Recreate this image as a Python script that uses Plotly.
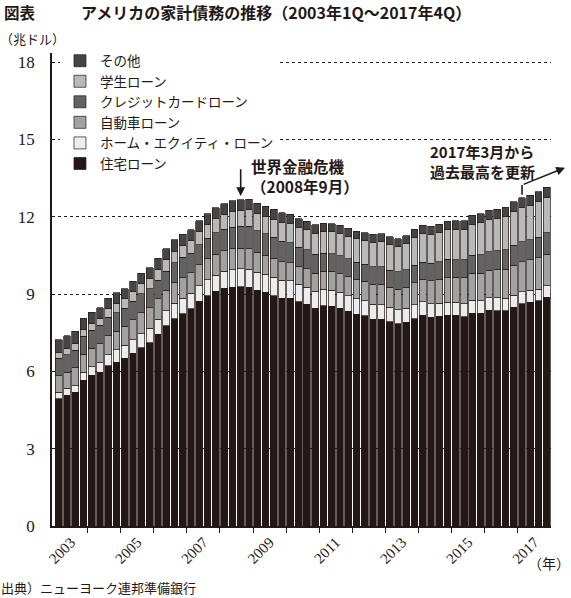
import plotly.graph_objects as go

years = list(range(2003, 2018))
quarters = [f"{y}Q{q}" for y in years for q in range(1, 5)]

mortgage = [4.94, 5.08, 5.18, 5.66, 5.84, 5.97, 6.21, 6.36, 6.51, 6.70, 6.91, 7.10,
            7.44, 7.76, 8.04, 8.23, 8.42, 8.71, 8.93, 9.10, 9.23, 9.27, 9.29, 9.26,
            9.14, 9.06, 8.94, 8.84, 8.83, 8.70, 8.61, 8.45, 8.54, 8.52, 8.44, 8.33,
            8.22, 8.15, 8.03, 8.03, 7.93, 7.84, 7.90, 8.05, 8.17, 8.10, 8.13, 8.17,
            8.17, 8.12, 8.26, 8.25, 8.37, 8.36, 8.35, 8.48, 8.63, 8.69, 8.74, 8.88]
home_equity = [0.24, 0.26, 0.27, 0.30, 0.33, 0.37, 0.43, 0.47, 0.50, 0.53, 0.54, 0.57,
               0.58, 0.59, 0.60, 0.60, 0.61, 0.61, 0.62, 0.63, 0.66, 0.68, 0.69, 0.71,
               0.71, 0.71, 0.71, 0.69, 0.68, 0.67, 0.66, 0.65, 0.64, 0.63, 0.62, 0.61,
               0.60, 0.59, 0.58, 0.56, 0.55, 0.54, 0.54, 0.53, 0.53, 0.52, 0.52, 0.51,
               0.51, 0.50, 0.50, 0.49, 0.49, 0.49, 0.48, 0.47, 0.46, 0.45, 0.45, 0.44]
auto = [0.64, 0.62, 0.68, 0.70, 0.72, 0.74, 0.75, 0.73, 0.73, 0.77, 0.83, 0.79,
        0.79, 0.80, 0.82, 0.82, 0.79, 0.81, 0.82, 0.81, 0.79, 0.80, 0.79, 0.78,
        0.77, 0.74, 0.74, 0.72, 0.71, 0.70, 0.71, 0.71, 0.71, 0.73, 0.73, 0.73,
        0.74, 0.75, 0.77, 0.78, 0.79, 0.81, 0.83, 0.86, 0.88, 0.90, 0.93, 0.96,
        0.97, 1.01, 1.04, 1.06, 1.07, 1.10, 1.14, 1.16, 1.17, 1.19, 1.21, 1.22]
credit_card = [0.69, 0.69, 0.69, 0.70, 0.70, 0.70, 0.71, 0.72, 0.71, 0.72, 0.73, 0.74,
               0.72, 0.74, 0.75, 0.77, 0.76, 0.78, 0.80, 0.83, 0.83, 0.84, 0.85, 0.87,
               0.84, 0.82, 0.81, 0.80, 0.76, 0.74, 0.73, 0.73, 0.70, 0.69, 0.69, 0.70,
               0.68, 0.67, 0.67, 0.68, 0.66, 0.67, 0.67, 0.68, 0.66, 0.67, 0.67, 0.70,
               0.68, 0.70, 0.71, 0.73, 0.71, 0.73, 0.75, 0.78, 0.76, 0.78, 0.81, 0.83]
student = [0.24, 0.24, 0.25, 0.25, 0.26, 0.26, 0.33, 0.35, 0.36, 0.37, 0.38, 0.39,
           0.43, 0.44, 0.45, 0.48, 0.51, 0.51, 0.53, 0.55, 0.58, 0.61, 0.62, 0.64,
           0.66, 0.68, 0.69, 0.72, 0.76, 0.76, 0.78, 0.81, 0.84, 0.85, 0.87, 0.87,
           0.90, 0.91, 0.96, 0.97, 0.99, 0.99, 1.03, 1.08, 1.11, 1.12, 1.13, 1.16,
           1.19, 1.19, 1.20, 1.23, 1.26, 1.26, 1.28, 1.31, 1.34, 1.34, 1.36, 1.38]
other = [0.48, 0.49, 0.48, 0.45, 0.45, 0.42, 0.41, 0.42, 0.39, 0.40, 0.41, 0.42,
         0.42, 0.42, 0.44, 0.41, 0.41, 0.42, 0.41, 0.42, 0.41, 0.41, 0.41, 0.41,
         0.41, 0.40, 0.39, 0.38, 0.36, 0.35, 0.33, 0.34, 0.32, 0.30, 0.31, 0.31,
         0.29, 0.30, 0.30, 0.31, 0.30, 0.30, 0.30, 0.32, 0.31, 0.32, 0.33, 0.33,
         0.33, 0.33, 0.35, 0.36, 0.35, 0.35, 0.36, 0.38, 0.37, 0.38, 0.39, 0.40]

series_names = ["住宅ローン", "ホーム・エクイティ・ローン", "自動車ローン",
                "クレジットカードローン", "学生ローン", "その他"]
series_values = [mortgage, home_equity, auto, credit_card, student, other]
series_colors = ["#231815", "#ececec", "#a2a2a2", "#636363", "#b9b9b9", "#454545"]

ytick_vals = [0, 3, 6, 9, 12, 15, 18]
label_years = [2003, 2005, 2007, 2009, 2011, 2013, 2015, 2017]

x = list(range(len(quarters)))
totals = [sum(v[i] for v in series_values) for i in x]

fig = go.Figure()
for name, vals, col in zip(series_names, series_values, series_colors):
    fig.add_trace(go.Bar(
        x=x, y=vals, name=name, customdata=quarters,
        marker=dict(color=col, line=dict(color="#231815", width=0.7)),
        hovertemplate="%{customdata}<br>" + name + ": %{y:.2f}<extra></extra>",
    ))

# year label positions (centre of each year) and year-boundary tick positions
label_pos = [(y - years[0]) * 4 + 1.5 for y in label_years]
boundary_pos = [(y - years[0]) * 4 - 0.5 for y in years[1:]]

serif = "Liberation Serif"
gothic = "Noto Sans CJK JP"
ink = "#231815"

fig.update_layout(
    width=571, height=598,
    margin=dict(l=52, r=20, t=53, b=72, pad=0),
    paper_bgcolor="white", plot_bgcolor="white",
    barmode="stack", bargap=0.18,
    showlegend=True,
    legend=dict(
        traceorder="reversed", x=0.016, y=1.016, xanchor="left", yanchor="top",
        bgcolor="white", borderwidth=0,
        font=dict(family=gothic, size=13.5, color=ink),
        itemwidth=30, tracegroupgap=0,
    ),
    xaxis=dict(
        range=[-0.8, 59.5], showgrid=False, zeroline=False,
        showline=True, linecolor=ink, linewidth=1.5,
        tickmode="array", tickvals=label_pos, ticktext=[str(y) for y in label_years],
        ticks="", tickangle=-45,
        tickfont=dict(family=serif, size=15, color=ink),
        minor=dict(tickmode="array", tickvals=boundary_pos, ticks="outside",
                   ticklen=5, tickwidth=1, tickcolor=ink, showgrid=False),
    ),
    yaxis=dict(
        range=[0, 18.35], tickmode="array", tickvals=ytick_vals,
        showgrid=True, gridcolor=ink, gridwidth=1.3, griddash="dot",
        zeroline=False, showline=True, linecolor=ink, linewidth=1.5,
        ticks="", ticklabelstandoff=12,
        tickfont=dict(family=serif, size=17, color=ink),
    ),
    font=dict(family=gothic, color=ink),
)

anns = [
    dict(text="<b>図表</b>", xref="paper", yref="paper", x=-0.1, y=1.086,
         xanchor="left", yanchor="middle", showarrow=False,
         font=dict(family=gothic, size=15.5, color=ink)),
    dict(text="<b>アメリカの家計債務の推移（2003年1Q～2017年4Q）</b>",
         xref="paper", yref="paper", x=0.054, y=1.086,
         xanchor="left", yanchor="middle", showarrow=False,
         font=dict(family=gothic, size=16, color=ink)),
    dict(text="（兆ドル）", xref="paper", yref="paper", x=-0.108, y=1.03,
         xanchor="left", yanchor="middle", showarrow=False,
         font=dict(family=gothic, size=13, color=ink)),
    dict(text="（年）", xref="paper", yref="paper", x=1.042, y=-0.078,
         xanchor="right", yanchor="middle", showarrow=False,
         font=dict(family=gothic, size=14, color=ink)),
    dict(text="出典）ニューヨーク連邦準備銀行", xref="paper", yref="paper",
         x=-0.106, y=-0.131, xanchor="left", yanchor="middle", showarrow=False,
         font=dict(family=gothic, size=13, color=ink)),
    # 世界金融危機
    dict(text="<b>世界金融危機<br>（2008年9月）</b>", x=29.8, y=13.56,
         xanchor="center", yanchor="middle", showarrow=False, align="left",
         font=dict(family=gothic, size=15.5, color=ink)),
    dict(text="", x=22, y=totals[22] + 0.15, axref="x", ayref="y",
         ax=22, ay=13.9, showarrow=True, arrowhead=2, arrowsize=1.1,
         arrowwidth=1.6, arrowcolor=ink),
    # 2017 record
    dict(text="<b>2017年3月から<br>過去最高を更新</b>", x=51.2, y=14.14,
         xanchor="center", yanchor="middle", showarrow=False, align="left",
         font=dict(family=gothic, size=15, color=ink)),
    dict(text="", x=61.2, y=13.9, axref="x", ayref="y",
         ax=56, ay=totals[56] + 0.5, showarrow=True, arrowhead=2, arrowsize=1.1,
         arrowwidth=1.6, arrowcolor=ink),
]
fig.update_layout(annotations=anns)
fig.add_shape(type="line", x0=22, x1=22.8, y0=13.9, y1=13.9,
              line=dict(color=ink, width=1.6))
fig.add_shape(type="line", x0=56, x1=56, y0=totals[56] + 0.12, y1=totals[56] + 0.5,
              line=dict(color=ink, width=1.6))

fig.write_html("out.html", config={"displayModeBar": False},
               post_script="document.body.style.margin='0';")
